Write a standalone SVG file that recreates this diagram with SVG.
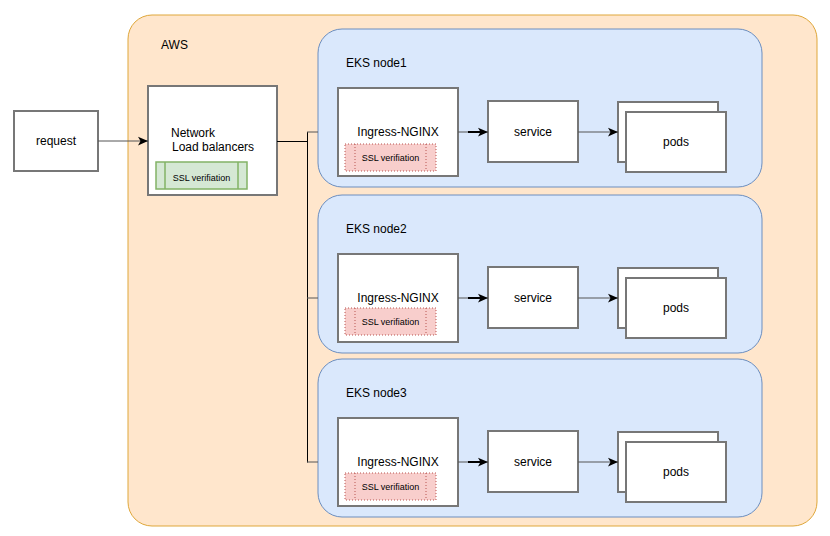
<svg xmlns="http://www.w3.org/2000/svg" width="830" height="536" viewBox="0 0 830 536">
<style>
text{font-family:"Liberation Sans",Arial,Helvetica,sans-serif;fill:#000;}
.t12{font-size:12px;}
.t9{font-size:9px;}
.mid{text-anchor:middle;}
.box{fill:#fff;stroke:#777;stroke-width:2;}
.eks{fill:#dae8fc;stroke:#6c8ebf;stroke-width:1;}
.ssl-g{fill:#d5e8d4;stroke:#82b366;stroke-width:1.5;}
.ssl-p{fill:#f8cecc;stroke:#b85450;stroke-width:1;stroke-dasharray:1 2;}
.edge{fill:none;stroke:#000;stroke-width:1;}
.edgeg{fill:none;stroke:#555;stroke-width:1;}
</style>
<defs>
<marker id="arr" markerUnits="userSpaceOnUse" markerWidth="10" markerHeight="10" viewBox="0 0 8 8" refX="8" refY="4" orient="auto">
<path d="M0,0.5 L8,4 L0,7.5 L2,4 Z" fill="#000"/>
</marker>
</defs>
<g id="aws">
<rect x="128" y="15" width="689" height="511" rx="24" fill="#ffe6cc" stroke="#dfa73a" stroke-width="1"/>
<text class="t12" x="161" y="49">AWS</text>
</g>
<g id="request">
<rect class="box" x="14" y="111" width="84" height="60"/>
<text class="t12 mid" x="56" y="145">request</text>
</g>
<g id="nlb">
<rect class="box" x="148" y="86" width="129" height="109"/>
<text class="t12" x="171" y="137">Network</text>
<text class="t12" x="172" y="151">Load balancers</text>
<rect class="ssl-g" x="156" y="162" width="91" height="27"/>
<line x1="165" y1="162" x2="165" y2="189" stroke="#82b366" stroke-width="1.5"/>
<line x1="238" y1="162" x2="238" y2="189" stroke="#82b366" stroke-width="1.5"/>
<text class="t9 mid" x="201.5" y="181">SSL verifiation</text>
</g>
<g id="eks1" transform="translate(0,29)">
<rect class="eks" x="318" y="0" width="444" height="158" rx="24"/>
<text class="t12" x="346" y="38">EKS node1</text>
<rect class="box" x="338" y="59" width="120" height="88"/>
<text class="t12 mid" x="398" y="107">Ingress-NGINX</text>
<rect class="ssl-p" x="345" y="115" width="91" height="27"/>
<line x1="355" y1="115" x2="355" y2="142" class="ssl-p"/>
<line x1="426" y1="115" x2="426" y2="142" class="ssl-p"/>
<text class="t9 mid" x="390.5" y="132">SSL verifiation</text>
<rect class="box" x="488" y="72" width="90" height="61"/>
<text class="t12 mid" x="533" y="107">service</text>
<rect class="box" x="618" y="73" width="100" height="60"/>
<rect class="box" x="626" y="83" width="100" height="60"/>
<text class="t12 mid" x="676" y="117">pods</text>
</g>
<g id="eks2" transform="translate(0,195)">
<rect class="eks" x="318" y="0" width="444" height="158" rx="24"/>
<text class="t12" x="346" y="38">EKS node2</text>
<rect class="box" x="338" y="59" width="120" height="88"/>
<text class="t12 mid" x="398" y="107">Ingress-NGINX</text>
<rect class="ssl-p" x="345" y="113" width="91" height="27"/>
<line x1="355" y1="113" x2="355" y2="140" class="ssl-p"/>
<line x1="426" y1="113" x2="426" y2="140" class="ssl-p"/>
<text class="t9 mid" x="390.5" y="130">SSL verifiation</text>
<rect class="box" x="488" y="72" width="90" height="61"/>
<text class="t12 mid" x="533" y="107">service</text>
<rect class="box" x="618" y="73" width="100" height="60"/>
<rect class="box" x="626" y="83" width="100" height="60"/>
<text class="t12 mid" x="676" y="117">pods</text>
</g>
<g id="eks3" transform="translate(0,359)">
<rect class="eks" x="318" y="0" width="444" height="158" rx="24"/>
<text class="t12" x="346" y="38">EKS node3</text>
<rect class="box" x="338" y="59" width="120" height="88"/>
<text class="t12 mid" x="398" y="107">Ingress-NGINX</text>
<rect class="ssl-p" x="345" y="114" width="91" height="27"/>
<line x1="355" y1="114" x2="355" y2="141" class="ssl-p"/>
<line x1="426" y1="114" x2="426" y2="141" class="ssl-p"/>
<text class="t9 mid" x="390.5" y="131">SSL verifiation</text>
<rect class="box" x="488" y="72" width="90" height="61"/>
<text class="t12 mid" x="533" y="107">service</text>
<rect class="box" x="618" y="73" width="100" height="60"/>
<rect class="box" x="626" y="83" width="100" height="60"/>
<text class="t12 mid" x="676" y="117">pods</text>
</g>
<g id="connectors">
<path class="edgeg" d="M98,141 L148,141" marker-end="url(#arr)"/>
<path class="edge" d="M277,141.5 L307.5,141.5 M307.5,132 L307.5,462.5"/>
<path class="edgeg" d="M307,132 L318,132 M307,298 L318,298 M307,462 L318,462"/>
<path class="edgeg" d="M458,132 L488,132" marker-end="url(#arr)"/>
<path class="edgeg" d="M458,298 L488,298" marker-end="url(#arr)"/>
<path class="edgeg" d="M458,462 L488,462" marker-end="url(#arr)"/>
<path d="M468,132 L481,132 M468,298 L481,298 M468,462 L481,462" stroke="#000" stroke-width="2" fill="none"/>
<path class="edgeg" d="M578,132 L618,132" marker-end="url(#arr)"/>
<path class="edgeg" d="M578,298 L618,298" marker-end="url(#arr)"/>
<path class="edgeg" d="M578,462 L618,462" marker-end="url(#arr)"/>
</g>
</svg>
